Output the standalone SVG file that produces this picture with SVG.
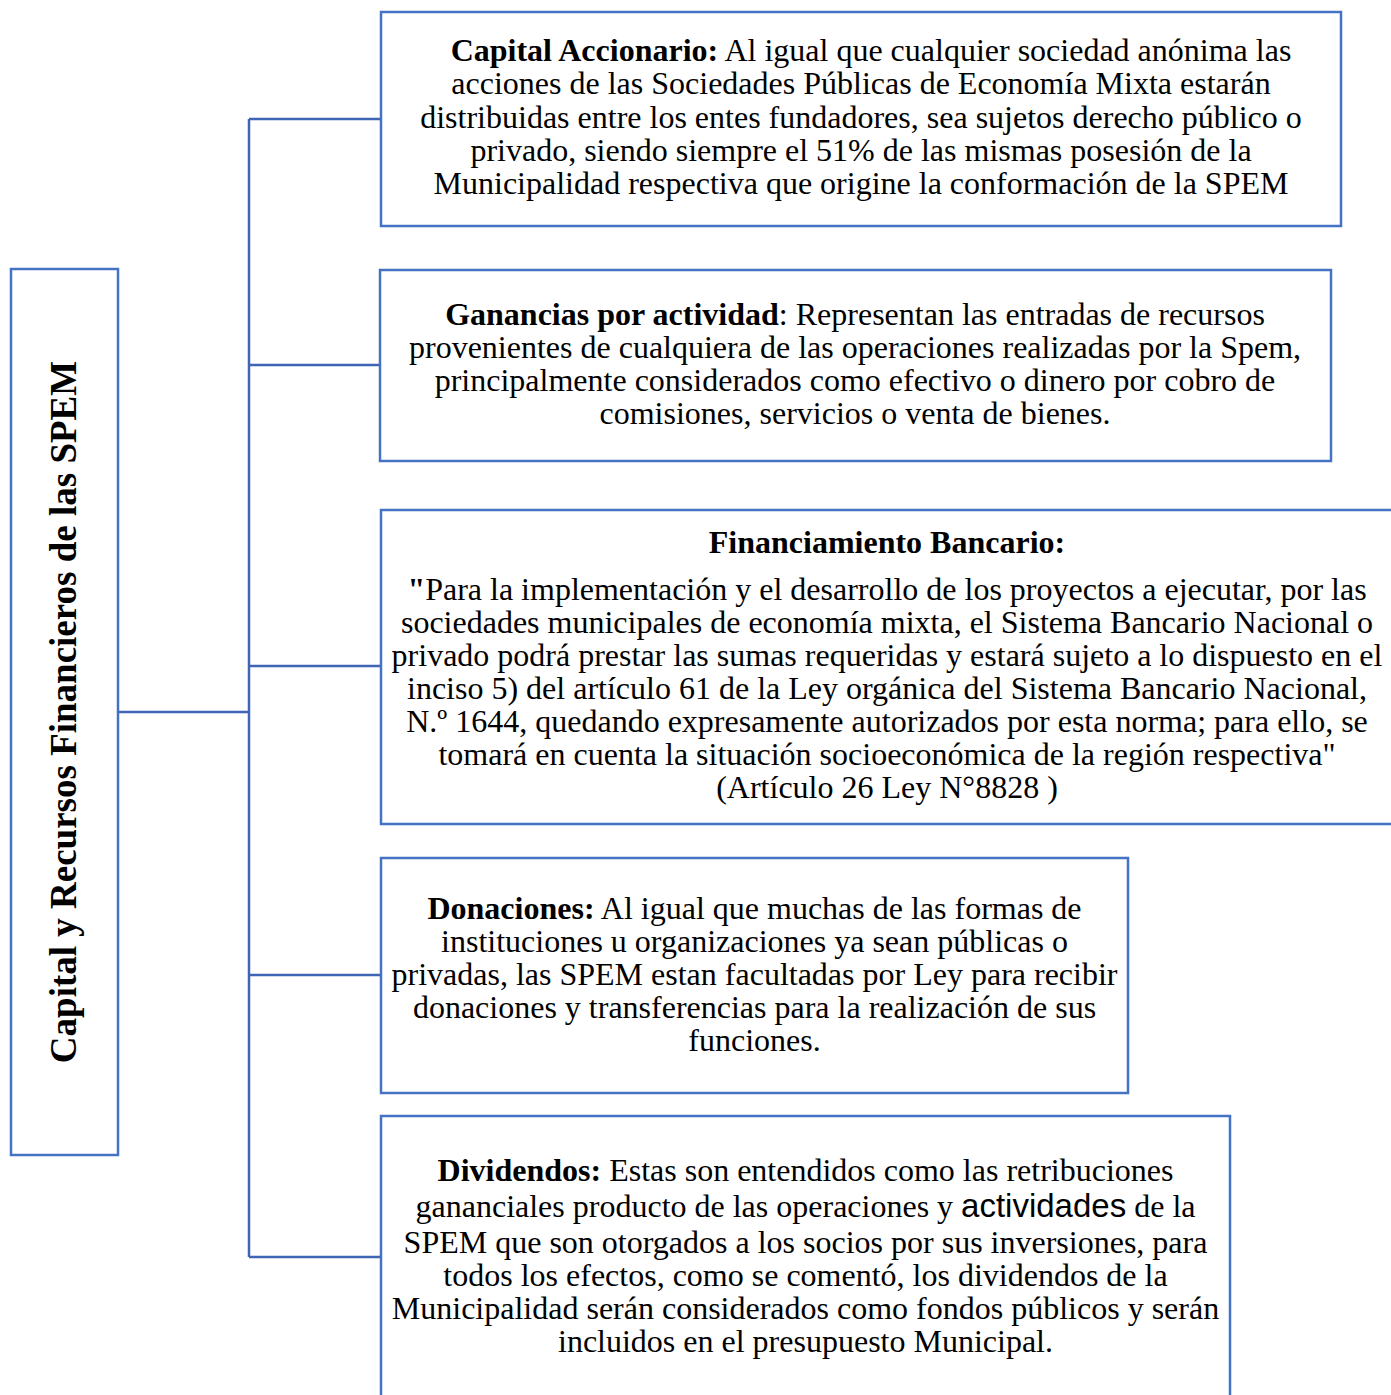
<svg xmlns="http://www.w3.org/2000/svg" width="1391" height="1395" viewBox="0 0 1391 1395">
<style>
.box{fill:#fff;stroke:#4472C4;stroke-width:2.5}
.ln{fill:none;stroke:#3F65B4;stroke-width:2.5}
text{font-family:"Liberation Serif","Times New Roman",serif;font-size:32px;fill:#000;text-anchor:middle}
.b{font-weight:bold}
.sans{font-family:"Liberation Sans",Arial,sans-serif;font-size:33px}
.title{font-size:37px;font-weight:bold}
</style>
<rect width="1391" height="1395" fill="#fff"/>
<g id="connectors">
<path class="ln" d="M249,119 V1257"/>
<path class="ln" d="M118,712 H249"/>
<path class="ln" d="M249,119 H381"/>
<path class="ln" d="M249,365 H380"/>
<path class="ln" d="M249,666 H381"/>
<path class="ln" d="M249,975 H381"/>
<path class="ln" d="M249,1257 H381"/>
</g>
<g id="root">
<rect class="box" x="11" y="269" width="107" height="886"/>
<text class="title" transform="translate(76,712) rotate(-90)">Capital y Recursos Financieros de las SPEM</text>
</g>
<g id="capital">
<rect class="box" x="381" y="12" width="960" height="214"/>
<text x="871" y="61"><tspan class="b">Capital Accionario:</tspan> Al igual que cualquier sociedad anónima las</text>
<text x="861" y="94">acciones de las Sociedades Públicas de Economía Mixta estarán</text>
<text x="861" y="128">distribuidas entre los entes fundadores, sea sujetos derecho público o</text>
<text x="861" y="161">privado, siendo siempre el 51% de las mismas posesión de la</text>
<text x="861" y="194">Municipalidad respectiva que origine la conformación de la SPEM</text>
</g>
<g id="ganancias">
<rect class="box" x="380" y="270" width="951" height="191"/>
<text x="855" y="325"><tspan class="b">Ganancias por actividad</tspan>: Representan las entradas de recursos</text>
<text x="855" y="358">provenientes de cualquiera de las operaciones realizadas por la Spem,</text>
<text x="855" y="391">principalmente considerados como efectivo o dinero por cobro de</text>
<text x="855" y="424">comisiones, servicios o venta de bienes.</text>
</g>
<g id="financiamiento">
<rect class="box" x="381" y="510" width="1020" height="314"/>
<text class="b" x="887" y="553">Financiamiento Bancario:</text>
<text x="887" y="600"><tspan class="b">"</tspan>Para la implementación y el desarrollo de los proyectos a ejecutar, por las</text>
<text x="887" y="633">sociedades municipales de economía mixta, el Sistema Bancario Nacional o</text>
<text x="887" y="666">privado podrá prestar las sumas requeridas y estará sujeto a lo dispuesto en el</text>
<text x="887" y="699">inciso 5) del artículo 61 de la Ley orgánica del Sistema Bancario Nacional,</text>
<text x="887" y="732">N.º 1644, quedando expresamente autorizados por esta norma; para ello, se</text>
<text x="887" y="765">tomará en cuenta la situación socioeconómica de la región respectiva"</text>
<text x="887" y="798">(Artículo 26 Ley N°8828 )</text>
</g>
<g id="donaciones">
<rect class="box" x="381" y="858" width="747" height="235"/>
<text x="754.5" y="919"><tspan class="b">Donaciones:</tspan> Al igual que muchas de las formas de</text>
<text x="754.5" y="952">instituciones u organizaciones ya sean públicas o</text>
<text x="754.5" y="985">privadas, las SPEM estan facultadas por Ley para recibir</text>
<text x="754.5" y="1018">donaciones y transferencias para la realización de sus</text>
<text x="754.5" y="1051">funciones.</text>
</g>
<g id="dividendos">
<rect class="box" x="381" y="1116" width="849" height="300"/>
<text x="805.5" y="1181"><tspan class="b">Dividendos:</tspan> Estas son entendidos como las retribuciones</text>
<text x="805.5" y="1217">gananciales producto de las operaciones y <tspan class="sans">actividades</tspan> de la</text>
<text x="805.5" y="1253">SPEM que son otorgados a los socios por sus inversiones, para</text>
<text x="805.5" y="1286">todos los efectos, como se comentó, los dividendos de la</text>
<text x="805.5" y="1319">Municipalidad serán considerados como fondos públicos y serán</text>
<text x="805.5" y="1352">incluidos en el presupuesto Municipal.</text>
</g>
</svg>
